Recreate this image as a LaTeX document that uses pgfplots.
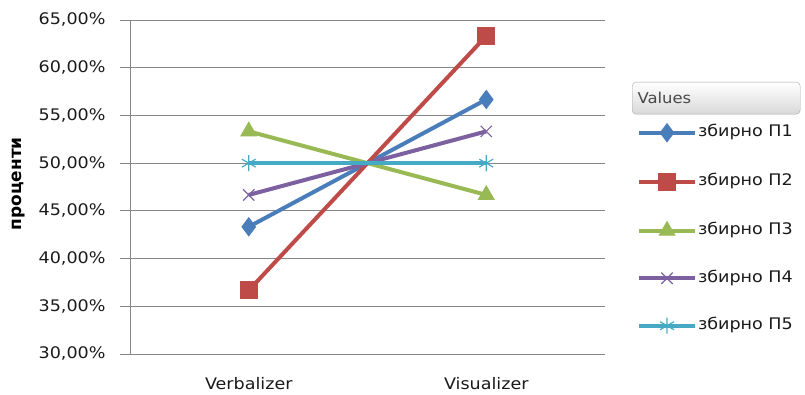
\documentclass[border=0pt]{standalone}
\usepackage{fontspec}
\setmainfont[FakeStretch=1.1]{DejaVu Sans}
\newfontfamily\labelfont{DejaVu Sans}
\usepackage{pgfplots}
\pgfplotsset{compat=1.18}
\usetikzlibrary{shadings}

\definecolor{sA}{HTML}{4A7EBB}
\definecolor{sB}{HTML}{BE4B48}
\definecolor{sC}{HTML}{98B954}
\definecolor{sD}{HTML}{7D60A0}
\definecolor{sE}{HTML}{46AAC5}
\definecolor{gridc}{HTML}{868686}
\definecolor{txt}{HTML}{1A1A1A}

\pgfplotstableread{
x    p1     p2     p3     p4     p5
0.5  43.33  36.67  53.33  46.67  50.00
1.5  56.67  63.33  46.67  53.33  50.00
}\groupdata

\begin{document}
\begin{tikzpicture}[x=1bp,y=1bp]
\path (0,0) rectangle (805,394);
\begin{axis}[
  at={(130bp,40bp)}, anchor=south west,
  scale only axis, width=475bp, height=334bp,
  xmin=0, xmax=2, ymin=30, ymax=65,
  axis lines*=left,
  axis line style={gridc, line width=0.9bp},
  ytick={30,35,...,65},
  ymajorgrids, grid style={gridc, line width=0.9bp},
  y tick style={gridc, line width=0.9bp},
  major tick length=10bp,
  tick align=outside,
  xtick={0.5,1.5}, xticklabels={Verbalizer,Visualizer},
  x tick style={draw=none},
  minor xtick={0,1,2},
  minor x tick style={gridc, line width=0.9bp},
  minor tick length=6bp,
  yticklabel={\pgfmathprintnumber[fixed,fixed zerofill,precision=2,use comma]{\tick}\%},
  /pgf/number format/assume math mode=true,
  ticklabel style={font=\fontsize{16}{18}\selectfont, text=txt},
  yticklabel style={xshift=-11bp},
  xticklabel style={yshift=-10bp},
  ylabel={\labelfont\bfseries проценти},
  every axis y label/.style={at={(axis description cs:-0.235,0.51)}, rotate=90, anchor=center, font=\fontsize{17}{19}\selectfont},
  legend style={at={(rel axis cs:1.067,0.69)}, anchor=north west, draw=none, fill=none,
    font=\fontsize{16}{18}\selectfont, text=txt, row sep=31.5bp, inner sep=0pt,
    nodes={inner sep=1bp, text height=11bp, text depth=3bp}},
  legend cell align=left,
  legend image code/.code={
    \draw[#1, mark repeat=2, mark phase=2] plot coordinates {(0bp,0bp) (28bp,0bp) (56bp,0bp)};
  },
  every axis plot/.append style={line width=4bp},
  clip=false,
]
\addplot[sA, mark=diamond*, mark size=9bp, mark options={solid, fill=sA, line width=1bp}] table[x=x,y=p1]{\groupdata};
\addlegendentry{збирно П1}
\addplot[sB, mark=square*, mark size=8.5bp, mark options={solid, fill=sB, line width=1bp}] table[x=x,y=p2]{\groupdata};
\addlegendentry{збирно П2}
\addplot[sC, mark=triangle*, mark size=9bp, mark options={solid, fill=sC, line width=1bp}] table[x=x,y=p3]{\groupdata};
\addlegendentry{збирно П3}
\addplot[sD, mark=x, mark size=8bp, mark options={solid, line width=1.2bp}] table[x=x,y=p4]{\groupdata};
\addlegendentry{збирно П4}
\addplot[sE, mark=asterisk, mark size=8bp, mark options={solid, line width=1.2bp}] table[x=x,y=p5]{\groupdata};
\addlegendentry{збирно П5}
\end{axis}
% legend header
\node[draw=gray!70, rounded corners=4bp, top color=white, bottom color=gray!30,
  minimum width=168bp, minimum height=32bp, anchor=north west, inner sep=0pt] at (632bp,312bp) {};
\node[anchor=west, text=txt!80, font=\fontsize{15}{17}\selectfont] at (634bp,296bp) {Values};
\end{tikzpicture}
\end{document}
